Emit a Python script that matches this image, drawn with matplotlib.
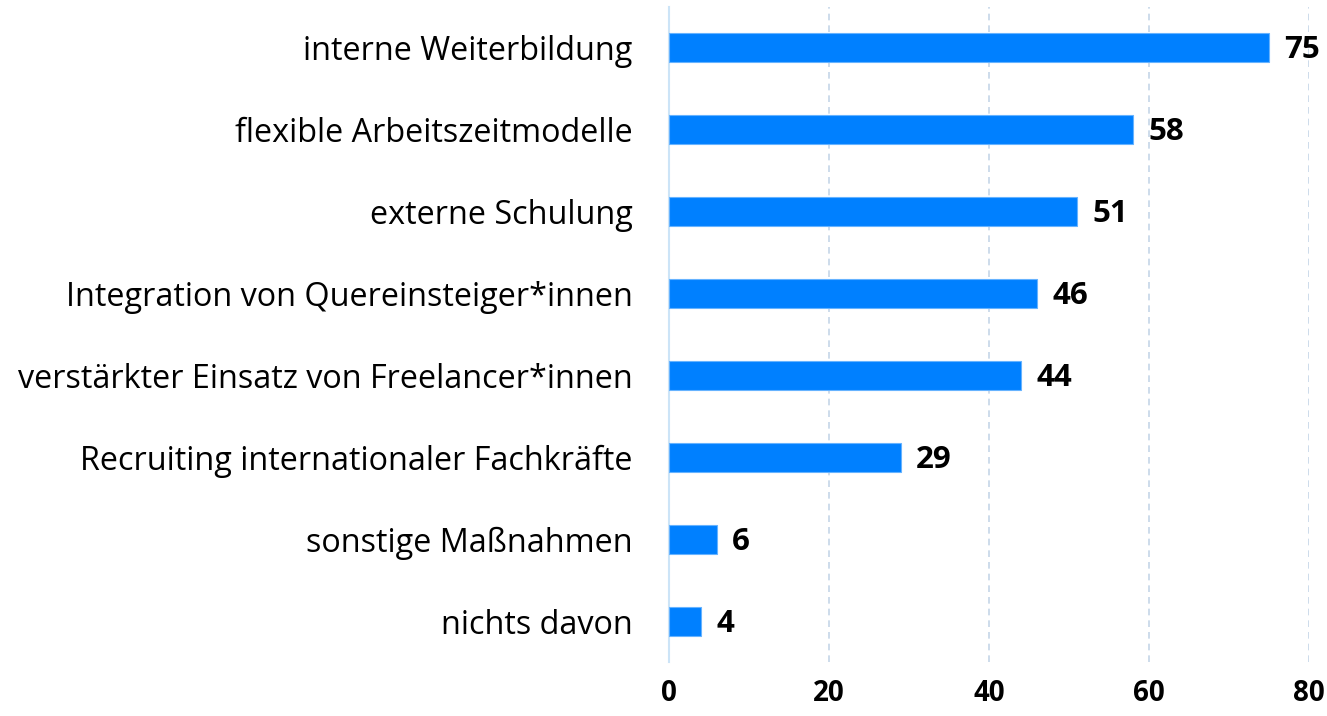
import matplotlib.pyplot as plt

categories = ["interne Weiterbildung", "flexible Arbeitszeitmodelle", "externe Schulung",
              "Integration von Quereinsteiger*innen", "verstärkter Einsatz von Freelancer*innen",
              "Recruiting internationaler Fachkräfte", "sonstige Maßnahmen", "nichts davon"]
values = [75, 58, 51, 46, 44, 29, 6, 4]
xticks = [0, 20, 40, 60, 80]

plt.rcParams['font.family'] = ['Open Sans', 'DejaVu Sans']

fig = plt.figure(figsize=(13.27, 7.16), dpi=100)
ax = fig.add_axes([0.504, 0.0754, 0.4824, 0.9148])

ypos = list(range(len(categories)))
ax.barh(ypos, values, height=0.355, color='#0080ff', edgecolor='#66b3ff', linewidth=0.8, zorder=3)

for y, v in zip(ypos, values):
    ax.text(v + 1.9, y + 0.03, str(v), va='center', ha='left', fontsize=22.5, fontweight='bold', color='black')

ax.set_ylim(len(categories) - 0.5, -0.5)
ax.set_xlim(0, 80)
ax.set_yticks(ypos)
ax.set_yticklabels(categories, fontsize=23.3)
ax.set_xticks(xticks)
ax.set_xticklabels([str(t) for t in xticks], fontsize=20, fontweight='bold')
ax.tick_params(axis='both', length=0)
ax.tick_params(axis='x', pad=12)
ax.tick_params(axis='y', pad=26)

ax.xaxis.grid(True, linestyle=(0, (4, 3)), color='#c5d6e8', linewidth=1.2, zorder=0)
for s in ['top', 'right', 'bottom']:
    ax.spines[s].set_visible(False)
ax.spines['left'].set_color('#cce4f7')
ax.spines['left'].set_linewidth(1.5)

fig.savefig('out.png', dpi=100, facecolor='white')
